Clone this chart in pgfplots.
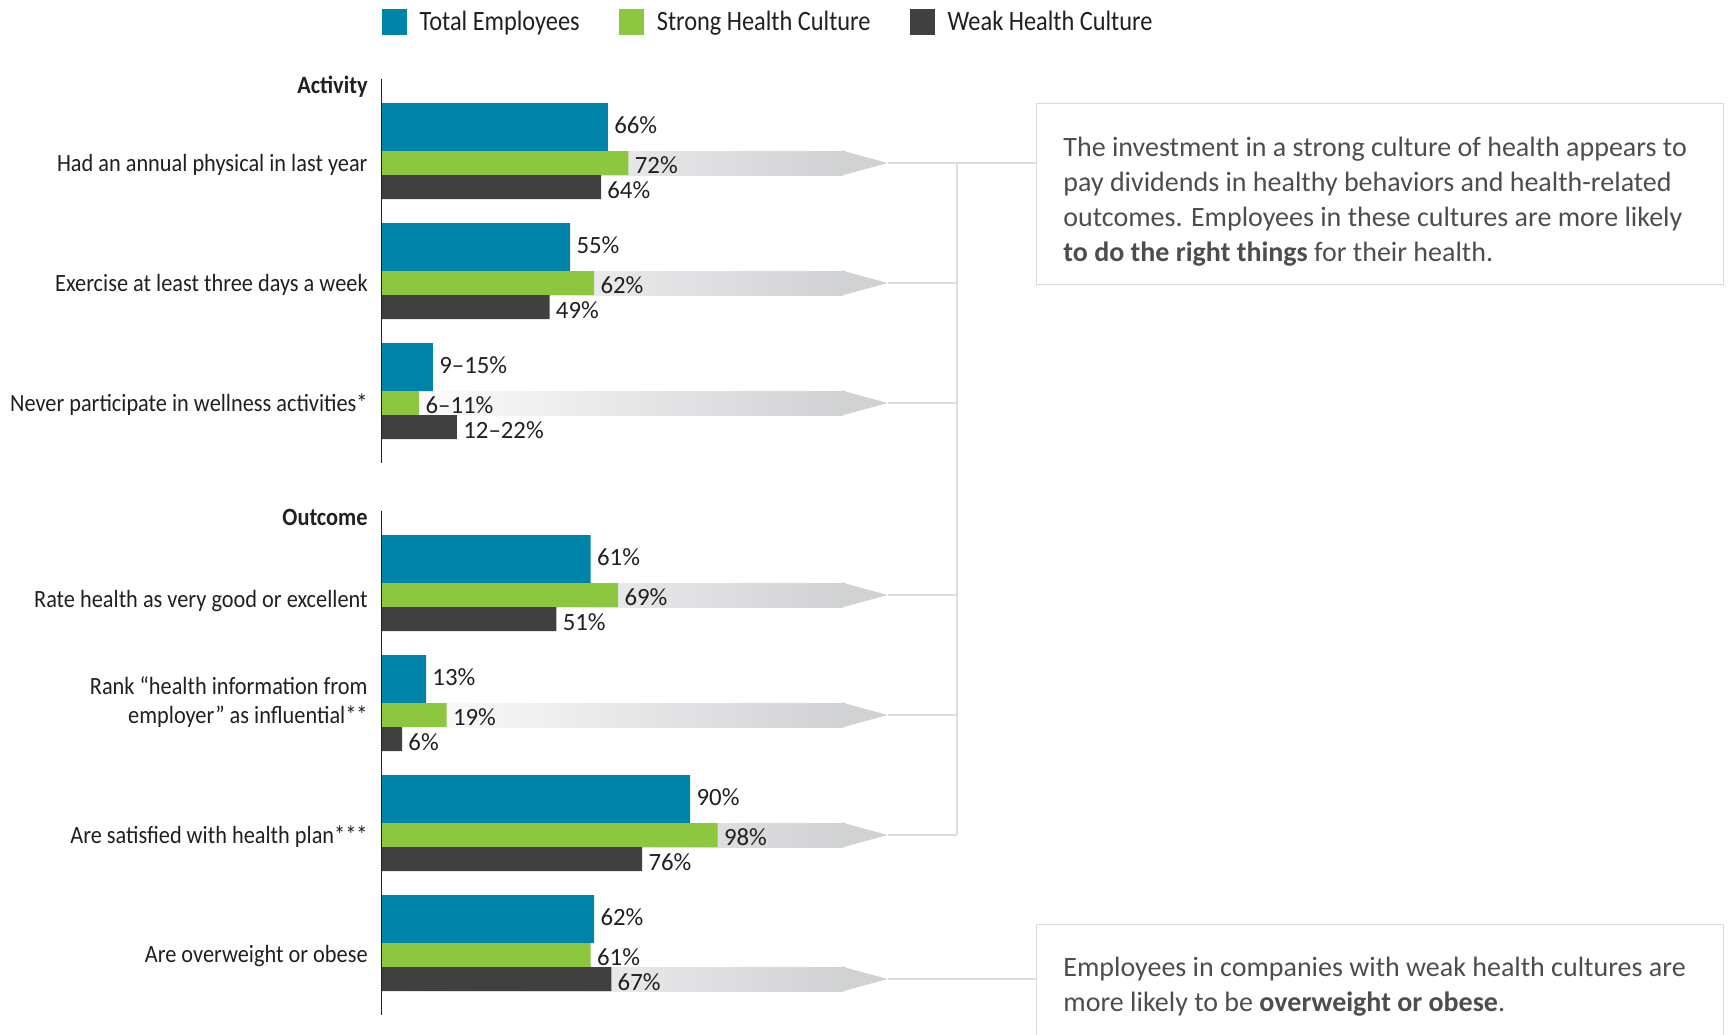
\documentclass[border=0pt]{standalone}
\usepackage{fontspec}
\setmainfont{Carlito}[Ligatures=TeX]
\newfontfamily\condfont{Carlito}[FakeStretch=0.90,Ligatures=TeX]
\newfontfamily\legfont{Carlito}[FakeStretch=0.87,Ligatures=TeX]
\usepackage{pgfplots}
\pgfplotsset{compat=1.18}
\definecolor{cteal}{HTML}{0083A9}
\definecolor{cgreen}{HTML}{8DC63F}
\definecolor{cdark}{HTML}{404041}
\definecolor{ctext}{HTML}{231F20}
\definecolor{cband}{HTML}{D1D2D4}
\definecolor{cline}{HTML}{DCDDDE}
\definecolor{cbox}{HTML}{D9DADB}
\newcommand{\lab}{\condfont\fontsize{12.4}{14}\selectfont}
\newcommand{\vlab}{\fontsize{12.4}{14}\selectfont}
\newcommand{\boxf}{\fontsize{14}{17.5}\selectfont}
\begin{document}
\begin{tikzpicture}
\begin{axis}[
  scale only axis, width=864.5pt, height=517pt,
  xmin=-111.224, xmax=392.857, ymin=0, ymax=1034, y dir=reverse,
  hide axis, clip=false,
  xbar, bar shift=0pt,
  nodes near coords, point meta=explicit symbolic,
  every node near coord/.append style={font=\vlab, text=ctext, anchor=west, inner sep=3pt},
  legend columns=3,
  legend style={draw=none, fill=none, at={(axis cs:0,22)}, anchor=west,
    inner sep=0pt, outer sep=0pt, font=\legfont\fontsize{14}{16}\selectfont, text=ctext,
    column sep=6.25pt, /tikz/every even column/.append style={column sep=19.5pt},
    nodes={inner sep=0pt}},
  legend cell align=left,
  legend image code/.code={\fill[#1] (0pt,-6.4pt) rectangle (12.8pt,6.4pt);},
]
% gradient bands and arrow heads
\pgfplotsinvokeforeach{163,283,403,595,715,835,979}{
  \fill[left color=white, right color=cband, draw=none]
    ([yshift=6pt]axis cs:0,#1) rectangle ([yshift=-6pt]axis cs:134.7,#1);
  \fill[cband] ([yshift=6pt]axis cs:134.7,#1) -- (axis cs:147.6,#1) -- ([yshift=-6pt]axis cs:134.7,#1) -- cycle;
}
\pgfplotsinvokeforeach{283,403,595,715,835}{
  \draw[cline, line width=0.65pt] (axis cs:147.6,#1) -- (axis cs:167.8,#1);
}
\draw[cline, line width=0.65pt] (axis cs:147.6,163) -- (axis cs:190.96,163);
\draw[cline, line width=0.65pt] (axis cs:167.8,163) -- (axis cs:167.8,835);
\draw[cline, line width=0.65pt] (axis cs:147.6,979) -- (axis cs:190.96,979);

\addplot[fill=cteal, draw=none, bar width=24pt,
  every node near coord/.append style={yshift=1pt}] coordinates {
  (66,127) [66\%] (55,247) [55\%] (15,367) [9–15\%] (61,559) [61\%]
  (13,679) [13\%] (90,799) [90\%] (62,919) [62\%]};
\addplot[fill=cgreen, draw=none, bar width=12pt,
  every node near coord/.append style={yshift=-1pt}] coordinates {
  (72,163) [72\%] (62,283) [62\%] (11,403) [6–11\%] (69,595) [69\%]
  (19,715) [19\%] (98,835) [98\%] (61,955) [61\%]};
\addplot[fill=cdark, draw=none, bar width=12pt,
  every node near coord/.append style={yshift=-1.5pt}] coordinates {
  (64,187) [64\%] (49,307) [49\%] (22,427) [12–22\%] (51,619) [51\%]
  (6,739) [6\%] (76,859) [76\%] (67,979) [67\%]};
\legend{Total Employees, Strong Health Culture, Weak Health Culture}

% axis lines
\draw[ctext, line width=0.65pt] (axis cs:0,79) -- (axis cs:0,463);
\draw[ctext, line width=0.65pt] (axis cs:0,511) -- (axis cs:0,1015);

% headers and category labels
\node[font=\lab\bfseries, text=ctext, anchor=base east, inner sep=0pt] at (axis cs:-3.94,93.3) {Activity};
\node[font=\lab\bfseries, text=ctext, anchor=base east, inner sep=0pt] at (axis cs:-3.94,525.5) {Outcome};
\begin{scope}[every node/.style={font=\lab, text=ctext, anchor=mid east, inner sep=0pt}]
\node at (axis cs:-3.94,167) {Had an annual physical in last year};
\node at (axis cs:-3.94,287) {Exercise at least three days a week};
\node at (axis cs:-3.94,407) {Never participate in wellness activities*};
\node at (axis cs:-3.94,603) {Rate health as very good or excellent};
\node at (axis cs:-3.94,690) {Rank “health information from};
\node at (axis cs:-3.94,719) {employer” as influential**};
\node at (axis cs:-3.94,839) {Are satisfied with health plan***};
\node at (axis cs:-3.94,958) {Are overweight or obese};
\end{scope}

% text boxes
\draw[cbox, line width=0.65pt] (axis cs:190.96,103.6) rectangle (axis cs:391.25,284.5);
\draw[cbox, line width=0.65pt] (axis cs:190.96,1040) -- (axis cs:190.96,924.3) -- (axis cs:391.25,924.3) -- (axis cs:391.25,1040);
\begin{scope}[every node/.style={font=\boxf, text=ctext!80, anchor=base west, inner sep=0pt}]
\node at (axis cs:198.7,156) {The investment in a strong culture of health appears to};
\node at (axis cs:198.7,191) {pay dividends in healthy behaviors and health-related};
\node at (axis cs:198.7,226) {outcomes. Employees in these cultures are more likely};
\node at (axis cs:198.7,261) {\textbf{to do the right things} for their health.};
\node at (axis cs:198.7,976) {Employees in companies with weak health cultures are};
\node at (axis cs:198.7,1011) {more likely to be \textbf{overweight or obese}.};
\end{scope}
\coordinate (BL) at (axis cs:-111.224,1034);
\coordinate (TR) at (axis cs:392.857,0);
\end{axis}
\pgfresetboundingbox
\path[use as bounding box] (BL) rectangle (TR);
\end{tikzpicture}
\end{document}
